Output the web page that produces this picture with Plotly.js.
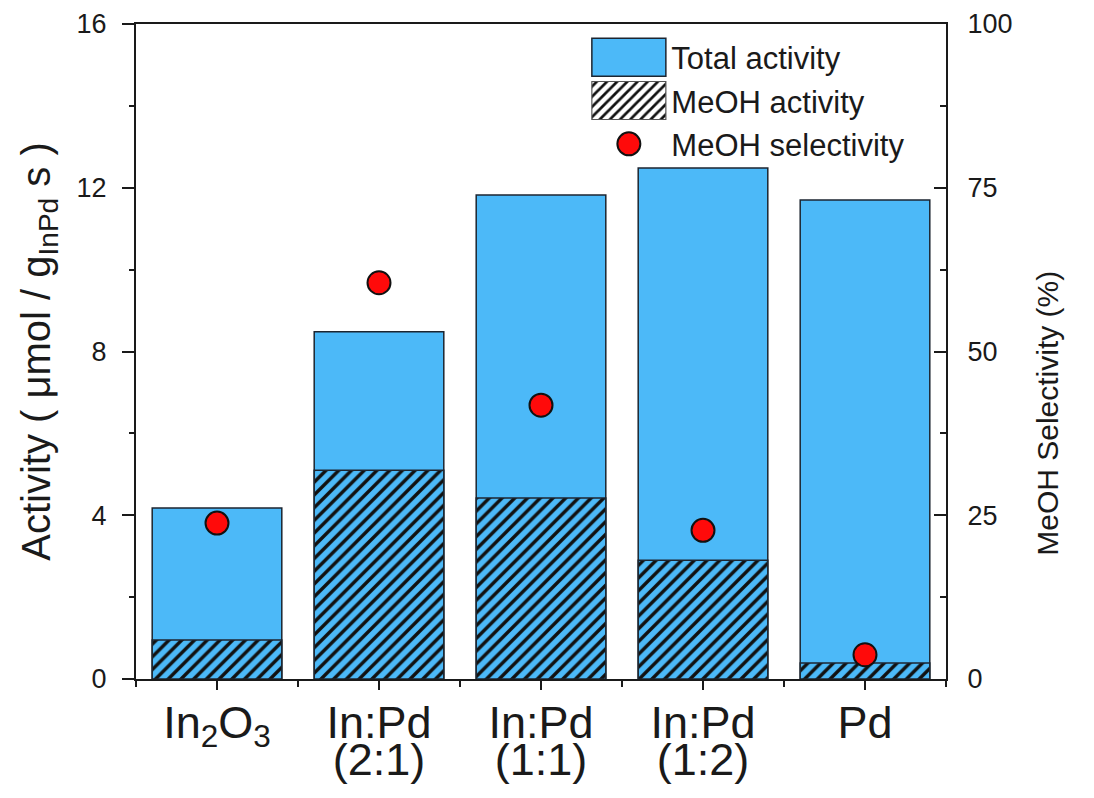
<!DOCTYPE html>
<html>
<head>
<meta charset="utf-8">
<script src="https://cdn.plot.ly/plotly-3.0.1.min.js"></script>
<style>html,body{margin:0;padding:0;background:#fff;}#chart{width:1094px;height:798px;}</style>
</head>
<body>
<div id="chart"></div>
<script>
// ---- data ----
const catLine1 = ["In<sub>2</sub>O<sub>3</sub>", "In:Pd", "In:Pd", "In:Pd", "Pd"];
const catLine2 = ["", "(2:1)", "(1:1)", "(1:2)", ""];
const totalActivity = [4.18, 8.48, 11.82, 12.48, 11.70];
const meohActivity = [0.95, 5.10, 4.42, 2.90, 0.39];
const meohSelectivity = [23.8, 60.5, 41.8, 22.7, 3.7];
const yTicks = [0, 4, 8, 12, 16];
const y2Ticks = [0, 25, 50, 75, 100];

const xPos = catLine1.map((_, i) => i);
const blue = '#4cb9f8';
const edge = '#1c2530';
const FONT = 'Liberation Sans, Arial, sans-serif';
const INK = '#1a1a1a';

const traces = [
  {
    type: 'bar', name: 'Total activity', x: xPos, y: totalActivity, width: 0.8,
    marker: {color: blue, line: {color: edge, width: 1.5}},
    hoverinfo: 'skip'
  },
  {
    type: 'bar', name: 'MeOH activity', x: xPos, y: meohActivity, width: 0.8,
    marker: {color: blue, line: {color: edge, width: 1.5},
      pattern: {shape: '/', fgcolor: '#111', bgcolor: blue, size: 9, solidity: 0.38}},
    showlegend: false, hoverinfo: 'skip'
  },
  {
    type: 'bar', name: 'MeOH activity', x: xPos, y: xPos.map(() => null), width: 0.8,
    marker: {color: 'white', line: {color: '#555', width: 1.2},
      pattern: {shape: '/', fgcolor: '#111', bgcolor: 'white', size: 9, solidity: 0.38}},
    showlegend: true, hoverinfo: 'skip'
  },
  {
    type: 'scatter', mode: 'markers', name: 'MeOH selectivity', x: xPos, y: meohSelectivity,
    xaxis: 'x2', yaxis: 'y2', cliponaxis: false,
    marker: {color: '#ff0a0a', size: 23, line: {color: '#111', width: 2}},
    hoverinfo: 'skip'
  }
];

const layout = {
  width: 1094, height: 798,
  margin: {l: 136, r: 148, t: 24, b: 119},
  paper_bgcolor: 'white', plot_bgcolor: 'white',
  barmode: 'overlay',
  font: {family: FONT, color: INK},
  showlegend: true,
  legend: {
    x: 0.556, y: 0.99, xanchor: 'left', yanchor: 'top',
    bgcolor: 'rgba(0,0,0,0)', borderwidth: 0,
    font: {size: 31, family: FONT, color: INK},
    itemwidth: 75, tracegroupgap: 0, traceorder: 'normal'
  },
  xaxis: {
    range: [-0.5, 4.5], tickmode: 'array', tickvals: xPos, ticktext: catLine1,
    showline: true, linecolor: INK, linewidth: 2, mirror: true,
    ticks: 'outside', ticklen: 9, tickwidth: 2, tickcolor: INK,
    minor: {dtick: 0.5, tick0: -0.5, ticks: 'outside', ticklen: 6, tickwidth: 2, tickcolor: INK},
    tickfont: {size: 45, family: FONT, color: INK},
    ticklabelstandoff: -6,
    showgrid: false, zeroline: false, fixedrange: true
  },
  xaxis2: {
    overlaying: 'x', anchor: 'y', side: 'bottom',
    range: [-0.5, 4.5], tickmode: 'array', tickvals: xPos, ticktext: catLine2,
    showline: false, ticks: '', showgrid: false, zeroline: false,
    tickfont: {size: 45, family: FONT, color: INK},
    ticklabelstandoff: 50, fixedrange: true
  },
  yaxis: {
    range: [0, 16], tickmode: 'array', tickvals: yTicks,
    showline: true, linecolor: INK, linewidth: 2,
    ticks: 'outside', ticklen: 12, tickwidth: 2, tickcolor: INK,
    minor: {dtick: 2, ticks: 'outside', ticklen: 5, tickwidth: 2, tickcolor: INK},
    tickfont: {size: 27, family: FONT, color: INK},
    ticklabelstandoff: 10,
    title: {text: 'Activity ( μmol / g<sub>InPd</sub> s )', font: {size: 40, family: FONT, color: INK}, standoff: 14},
    showgrid: false, zeroline: false, fixedrange: true
  },
  yaxis2: {
    overlaying: 'y', side: 'right', range: [0, 100], tickmode: 'array', tickvals: y2Ticks,
    showline: true, linecolor: INK, linewidth: 2,
    ticks: 'inside', ticklen: 12, tickwidth: 2, tickcolor: INK,
    minor: {dtick: 12.5, ticks: 'inside', ticklen: 6, tickwidth: 2, tickcolor: INK},
    tickfont: {size: 27, family: FONT, color: INK},
    ticklabelstandoff: 14,
    showgrid: false, zeroline: false, fixedrange: true
  },
  annotations: [{
    text: 'MeOH Selectivity (%)', textangle: -90,
    xref: 'paper', yref: 'paper', x: 1.126, y: 0.405, xanchor: 'center', yanchor: 'middle',
    showarrow: false, font: {size: 30, family: FONT, color: INK}
  }]
};

Plotly.newPlot('chart', traces, layout, {staticPlot: true, displayModeBar: false}).then(() => {
  // enlarge legend symbols to look like the reference's legend keys
  document.querySelectorAll('.legend .traces .legendpoints path').forEach((p) => {
    const d = p.getAttribute('d') || '';
    if (d.indexOf('H') >= 0 && d.indexOf('V') >= 0) {
      p.setAttribute('d', 'M37,19H-37V-19H37Z');
    } else if (d.indexOf('A') >= 0) {
      p.setAttribute('d', 'M11.5,0A11.5,11.5 0 1,1 0,-11.5A11.5,11.5 0 0,1 11.5,0Z');
    }
  });
});
</script>
</body>
</html>
